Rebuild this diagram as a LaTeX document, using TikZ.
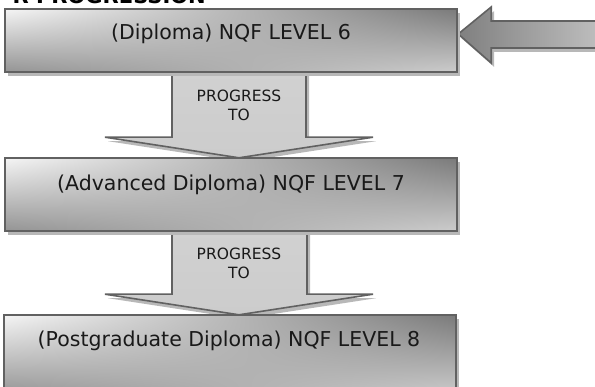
\documentclass[tikz,border=0pt]{standalone}
\usepackage{fontspec}
\setmainfont{DejaVu Sans}
\usetikzlibrary{shadows,calc}
\pgfdeclarefunctionalshading{boxshade}{\pgfpointorigin}{\pgfpoint{100bp}{100bp}}{}{
25 sub 50 div exch 25 sub 50 div
2 copy mul -0.70 mul
exch 0.22 mul add
exch 0.38 mul add 0.58 add
dup 0 lt {pop 0} if dup 1 gt {pop 1} if
dup dup}
\definecolor{edge}{gray}{0.38}
\tikzset{
  shad/.style={drop shadow={shadow xshift=3pt,shadow yshift=-4pt,fill=black!28,opacity=1}},
  levelbox/.style={shape=rectangle,draw=edge,line width=1.6pt,shading=boxshade,shad,inner sep=0pt},
  downarrow/.style={draw=edge,line width=1.6pt,top color=black!18,middle color=black!40,bottom color=black!20,shad},
  sidearrow/.style={draw=edge,line width=1.6pt,left color=black!50,right color=black!24,shad},
  leveltext/.style={font=\fontsize{20.5}{24}\selectfont,text=black!90},
  progtext/.style={font=\fontsize{15.5}{19}\selectfont,align=center,text=black!90,inner sep=0pt},
  titletext/.style={font=\bfseries\fontsize{21}{24}\selectfont,inner sep=0pt}
}
\begin{document}
\begin{tikzpicture}[x=1pt,y=-1pt]
\useasboundingbox (0,0) rectangle (595,387);
\clip (0,0) rectangle (595,387);
\node[titletext,anchor=base east] (title) at (206,4) {R PROGRESSION};
% box positions (nodes)
\node[minimum width=452pt,minimum height=63pt,inner sep=0pt] (b1) at (231,40.5) {};
\node[minimum width=452pt,minimum height=73pt,inner sep=0pt] (b2) at (231,194.5) {};
\node[minimum width=452pt,minimum height=80pt,inner sep=0pt] (b3) at (230,355) {};
% arrows
\coordinate (a1top) at ($(b1.south)+(8,0)$);
\coordinate (a1tip) at ($(b2.north)+(8,0)$);
\coordinate (a2top) at ($(b2.south)+(8,0)$);
\coordinate (a2tip) at ($(b3.north)+(9,0)$);
\coordinate (lt) at ($(b1.east)+(1,-6.5)$);
\path[downarrow] ($(a1top)+(-67,-4)$) -- ($(a1top)+(67,-4)$) -- ($(a1top)+(67,65)$) -- ($(a1top)+(134,65)$) -- (a1tip) -- ($(a1top)+(-134,65)$) -- ($(a1top)+(-67,65)$) -- cycle;
\path[downarrow] ($(a2top)+(-67,-4)$) -- ($(a2top)+(68,-4)$) -- ($(a2top)+(68,63)$) -- ($(a2top)+(134,63)$) -- (a2tip) -- ($(a2top)+(-134,63)$) -- ($(a2top)+(-67,63)$) -- cycle;
\path[sidearrow] (lt) -- ($(lt)+(33,-27)$) -- ($(lt)+(33,-13)$) -- ($(lt)+(150,-13)$) -- ($(lt)+(150,14)$) -- ($(lt)+(33,14)$) -- ($(lt)+(33,29)$) -- cycle;
% boxes drawn on top
\node[levelbox,minimum width=452pt,minimum height=63pt] at (b1) {};
\node[levelbox,minimum width=452pt,minimum height=73pt] at (b2) {};
\node[levelbox,minimum width=452pt,minimum height=80pt] at (b3) {};
% texts
\node[leveltext] (t1) at (231,34) {(Diploma) NQF LEVEL 6};
\node[leveltext] (t2) at (231,185) {(Advanced Diploma) NQF LEVEL 7};
\node[leveltext] (t3) at (229,341) {(Postgraduate Diploma) NQF LEVEL 8};
\node[progtext] (p1) at (239,105.5) {PROGRESS\\TO};
\node[progtext] (p2) at (239,263) {PROGRESS\\TO};
\end{tikzpicture}
\end{document}
